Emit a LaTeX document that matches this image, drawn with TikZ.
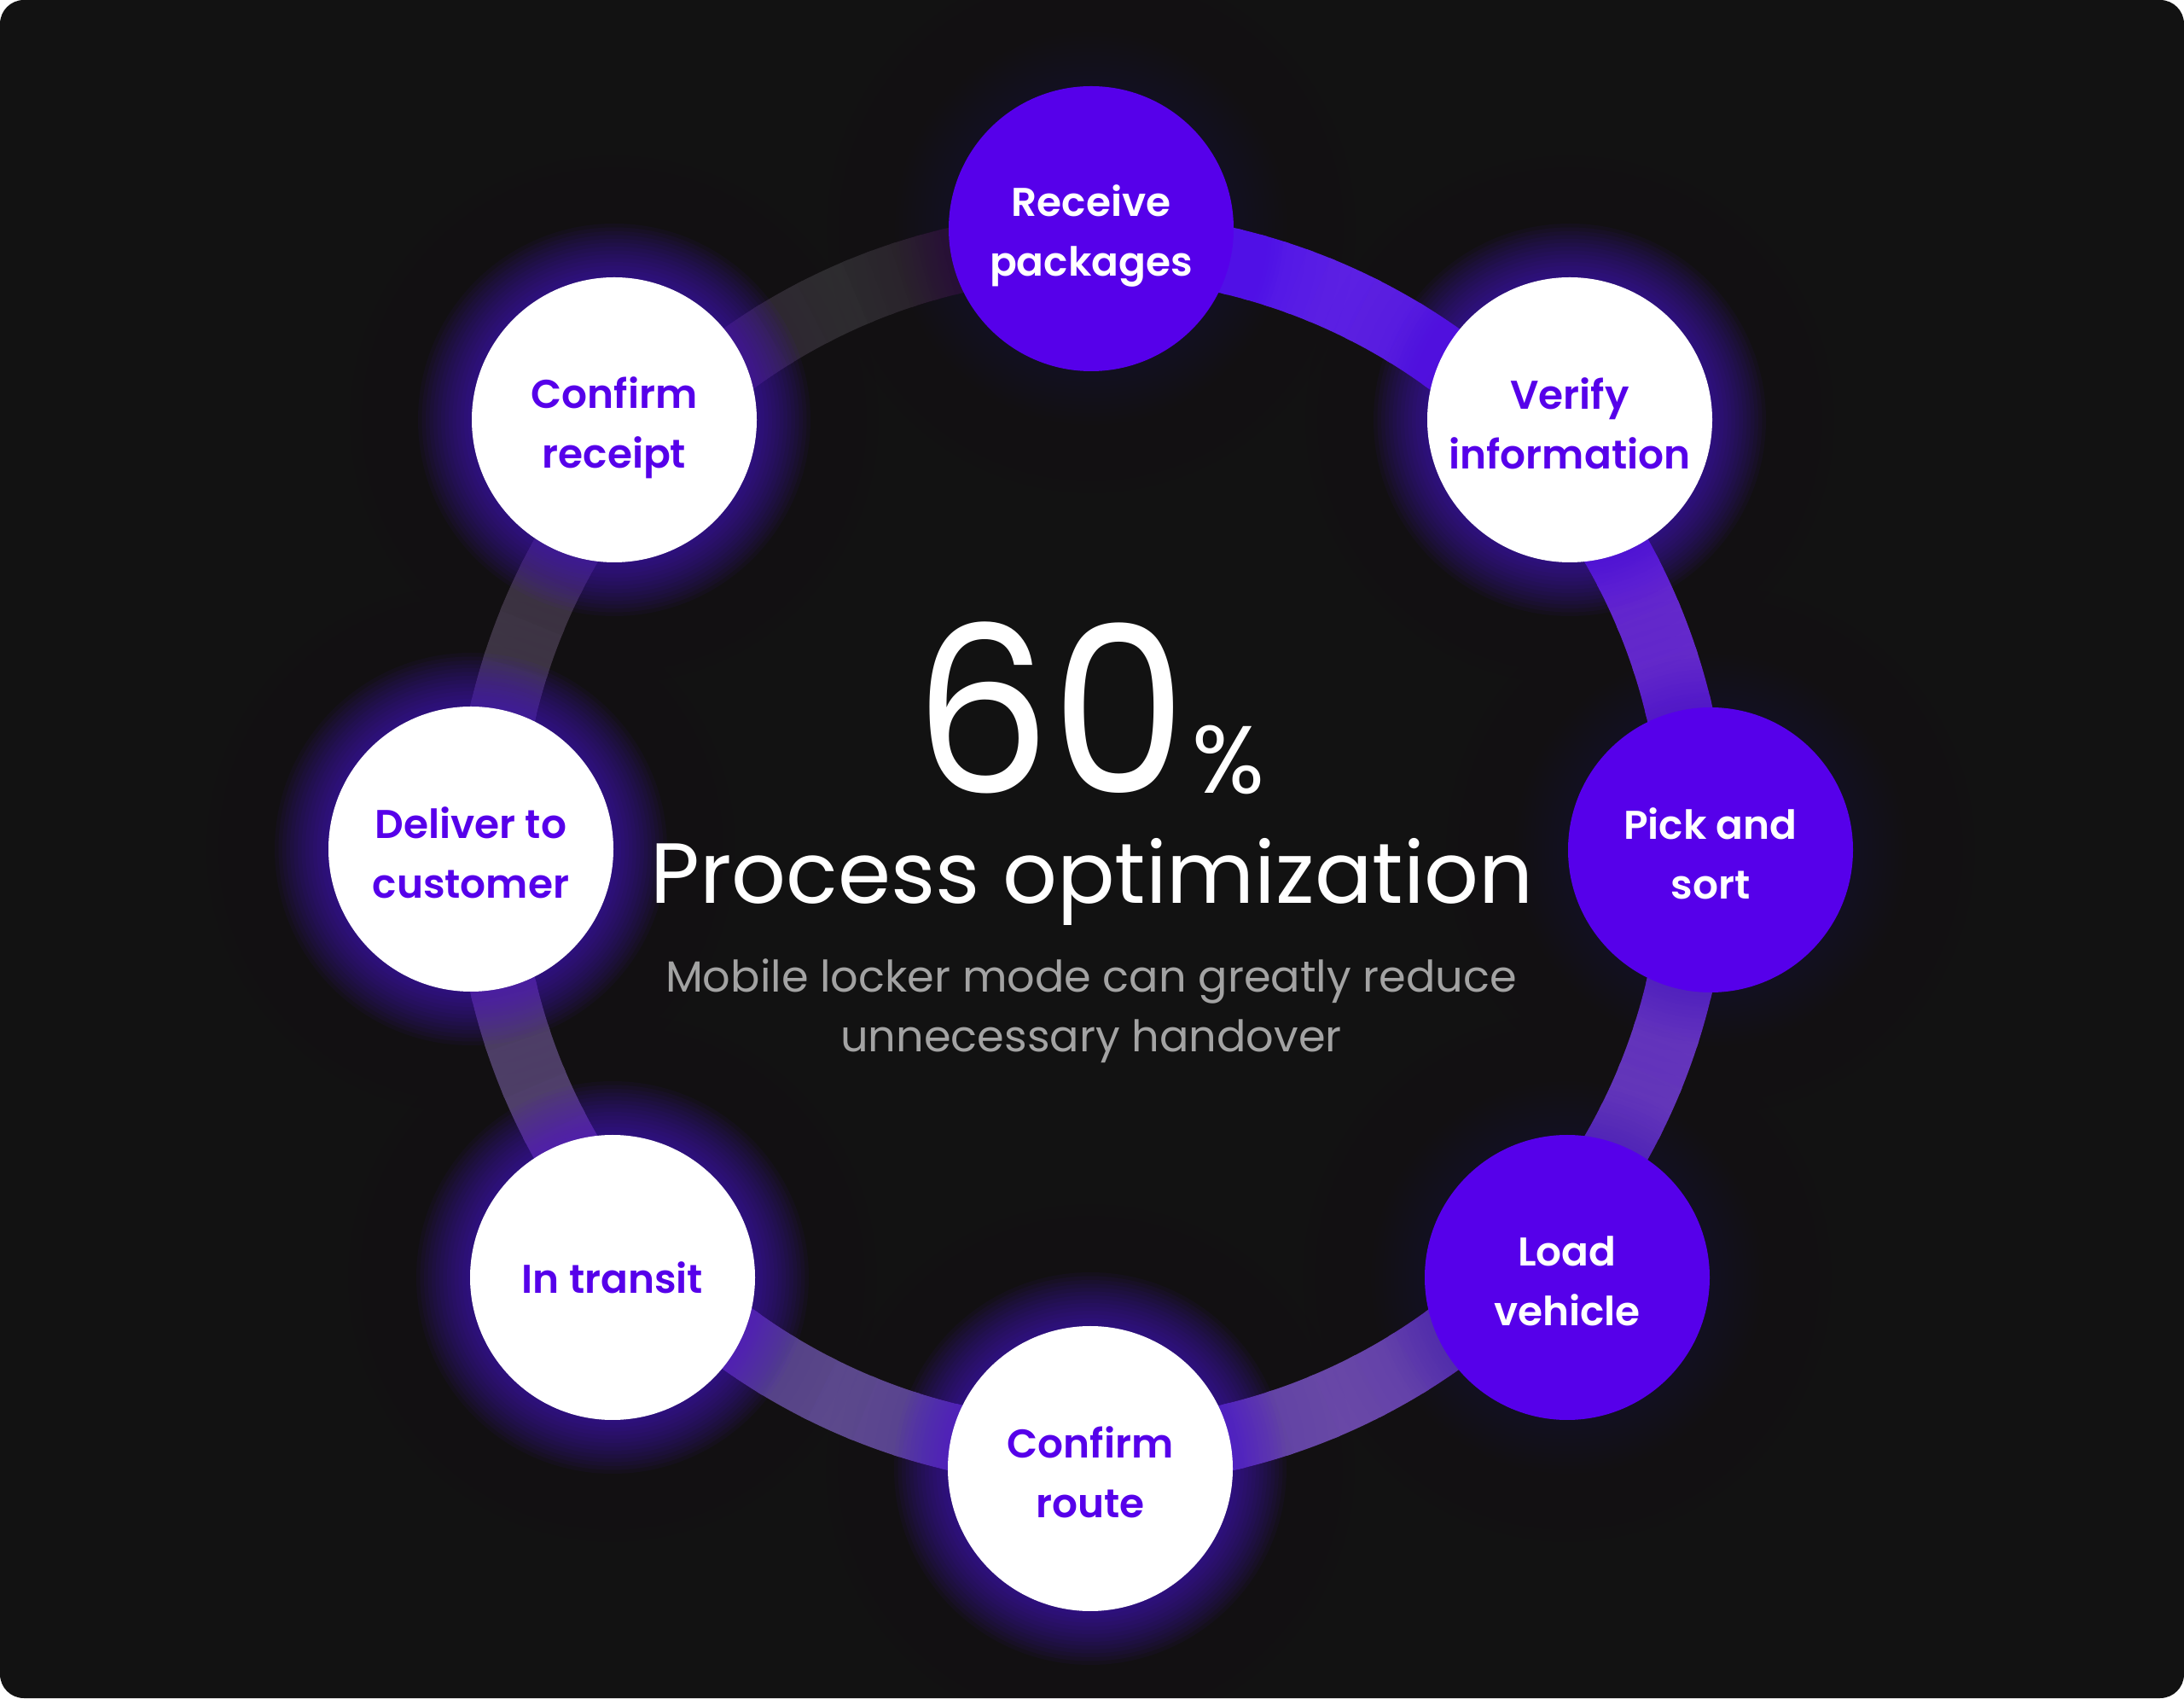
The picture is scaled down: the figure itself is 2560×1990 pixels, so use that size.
\documentclass[tikz,border=0pt]{standalone}
\usepackage{graphicx}
\usepackage{fontspec}
\setmainfont{Poppins}[BoldFont=* SemiBold]
\definecolor{bgc}{RGB}{18,18,18}
\definecolor{pp}{RGB}{86,0,234}
\definecolor{glowc}{RGB}{80,16,230}
\definecolor{subg}{RGB}{163,163,163}
\definecolor{s0}{RGB}{88,24,240}
\definecolor{s1}{RGB}{92,32,228}
\definecolor{s2}{RGB}{106,46,204}
\definecolor{s3}{RGB}{106,60,186}
\definecolor{s4}{RGB}{106,74,166}
\definecolor{s5}{RGB}{94,74,142}
\definecolor{s6}{RGB}{78,70,104}
\definecolor{s7}{RGB}{60,58,66}
\definecolor{s8}{RGB}{44,44,46}
\definecolor{s9}{RGB}{32,32,32}
\tikzset{
  stepw/.style={circle, fill=white, minimum size=334pt, inner sep=0pt, text=pp,
    font=\bfseries\fontsize{47}{70}\selectfont, align=center},
  stepp/.style={stepw, fill=pp, text=white},
  steplbl/.style={font=\bfseries\fontsize{47}{70}\selectfont, align=center, text=#1},
  bigtxt/.style={text=white, anchor=base, inner sep=0pt},
}
\begin{document}
\begin{tikzpicture}[x=1pt,y=1pt]
\useasboundingbox (0,0) rectangle (2560,1990);
\fill[white] (0,0) rectangle (2560,1990);
\fill[bgc, rounded corners=28pt] (0,0) rectangle (2560,1990);
\coordinate (ctr) at (1279,995);
\coordinate (pRcv) at (1279,1722);
\coordinate (pVer) at (1840,1498);
\coordinate (pPick) at (2005,994);
\coordinate (pLoad) at (1837,493);
\coordinate (pRoute) at (1278,269);
\coordinate (pTrans) at (718,493);
\coordinate (pDel) at (552,995);
\coordinate (pConf) at (720,1498);
% gradient ring
\foreach \ca/\cb/\cola/\colb in {0/22/s0/s1, 22/67/s1/s2, 67/112/s2/s3, 112/157/s3/s4,
    157/202/s4/s5, 202/247/s5/s6, 247/292/s6/s7, 292/337/s7/s8, 337/360/s8/s9}{
  \foreach \k in {0,...,9}{
    \pgfmathsetmacro\sa{90-(\ca+(\cb-\ca)*\k/10)}
    \pgfmathsetmacro\ea{\sa-(\cb-\ca)/10-0.6}
    \pgfmathtruncatemacro\pc{\k*10+5}
    \draw[line width=78pt, color=\colb!\pc!\cola] (ctr) ++(\sa:708pt) arc[start angle=\sa, end angle=\ea, radius=708pt];
  }
}
% glows
\foreach \p/\g in {pRcv/0.15, pVer/1, pPick/0.15, pLoad/0.15, pRoute/1, pTrans/1, pDel/1, pConf/1}{
  \foreach \k in {1,...,10}{
    \fill[glowc, opacity=0.005] (\p) circle[radius=170pt+14pt*\k];
  }
  \foreach \k in {1,...,14}{
    \fill[glowc, opacity=0.05*\g] (\p) circle[radius=167pt+4.5pt*\k];
  }
}
% steps
\node[stepp] (rcv) at (pRcv) {};
\node[steplbl=white] (rcvt) at ([yshift=-9pt]rcv.center) {Receive\\packages};
\node[stepw] (ver) at (pVer) {};
\node[steplbl=pp] (vert) at ([yshift=-4pt]ver.center) {Verify\\information};
\node[stepp] (pick) at (pPick) {};
\node[steplbl=white] (pickt) at ([yshift=-4pt]pick.center) {Pick and\\sort};
\node[stepp] (load) at (pLoad) {};
\node[steplbl=white] (loadt) at ([yshift=-4pt]load.center) {Load\\vehicle};
\node[stepw] (route) at (pRoute) {};
\node[steplbl=pp] (routet) at ([yshift=-4pt]route.center) {Confirm\\route};
\node[stepw] (trans) at (pTrans) {In transit};
\node[stepw] (del) at (pDel) {};
\node[steplbl=pp] (delt) at ([yshift=-4pt]del.center) {Deliver to\\customer};
\node[stepw] (conf) at (pConf) {};
\node[steplbl=pp] (conft) at ([yshift=-9pt]conf.center) {Confirm\\receipt};
% centre text
\node[bigtxt, text depth=0pt, font=\fontsize{272}{272}\selectfont] (pct) at (1277,1060) {\scalebox{0.93}[1]{60}\hspace{6pt}{\fontsize{112}{112}\selectfont\%}};
\node[bigtxt, text height=74pt, font=\fontsize{100}{100}\selectfont] (title) at (1280,931) {Process optimization};
\node[bigtxt, text=subg, font=\fontsize{51}{70}\selectfont] (sub1) at (1279,827) {Mobile locker mode can greatly reduce};
\node[bigtxt, text=subg, font=\fontsize{51}{70}\selectfont] (sub2) at (1279,757) {unnecessary handover};
\end{tikzpicture}
\end{document}
